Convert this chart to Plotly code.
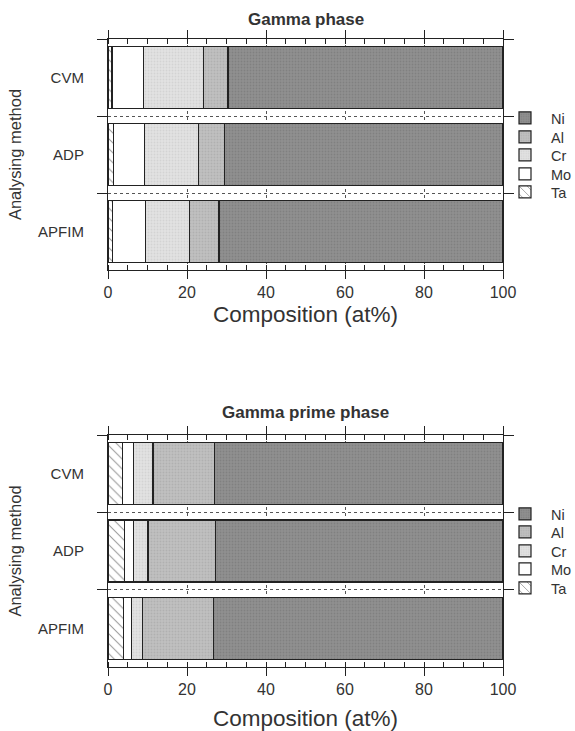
import plotly.graph_objects as go

methods = ["CVM", "ADP", "APFIM"]
elements = ["Ta", "Mo", "Cr", "Al", "Ni"]

# Gamma phase composition (at%)
gamma_Ta = [1.0, 1.4, 1.1]
gamma_Mo = [7.9, 7.9, 8.4]
gamma_Cr = [15.3, 13.7, 11.2]
gamma_Al = [6.2, 6.5, 7.4]
gamma_Ni = [69.6, 70.5, 71.9]

# Gamma prime phase composition (at%)
gprime_Ta = [3.6, 4.1, 4.0]
gprime_Mo = [2.9, 2.4, 2.0]
gprime_Cr = [4.9, 3.6, 2.8]
gprime_Al = [15.6, 17.1, 17.9]
gprime_Ni = [73.0, 72.8, 73.3]

x_ticks = [0, 20, 40, 60, 80, 100]

gamma = {"Ta": gamma_Ta, "Mo": gamma_Mo, "Cr": gamma_Cr, "Al": gamma_Al, "Ni": gamma_Ni}
gprime = {"Ta": gprime_Ta, "Mo": gprime_Mo, "Cr": gprime_Cr, "Al": gprime_Al, "Ni": gprime_Ni}

styles = {
    "Ta": dict(color="white", pattern=dict(shape="\\", fgcolor="#333333", bgcolor="white", size=7, solidity=0.15)),
    "Mo": dict(color="white"),
    "Cr": dict(color="#dcdcdc", pattern=dict(shape=".", fgcolor="#c4c4c4", bgcolor="#e2e2e2", size=3, solidity=0.3)),
    "Al": dict(color="#b9b9b9", pattern=dict(shape=".", fgcolor="#a0a0a0", bgcolor="#c0c0c0", size=3, solidity=0.3)),
    "Ni": dict(color="#8a8a8a", pattern=dict(shape=".", fgcolor="#707070", bgcolor="#909090", size=3, solidity=0.3)),
}

TXT = "#333333"
FONT = "Liberation Sans"

W, H = 575, 731
def py(p):
    return 1 - p / H

# legend entry rows (pixel centres) for each panel, Ni at top ... Ta at bottom
legend_rows = {
    0: {"Ni": 118, "Al": 137, "Cr": 155, "Mo": 174, "Ta": 192},
    1: {"Ni": 514, "Al": 532, "Cr": 551, "Mo": 569, "Ta": 588},
}

fig = go.Figure()
legends = {}
k = 0
for panel, (data, xa, ya) in enumerate([(gamma, "x", "y"), (gprime, "x2", "y2")]):
    for el in elements:
        k += 1
        lg = "legend" if k == 1 else f"legend{k}"
        st = styles[el]
        marker = dict(color=st["color"], line=dict(color="#222222", width=1.2))
        if "pattern" in st:
            marker["pattern"] = st["pattern"]
        fig.add_trace(go.Bar(
            y=methods, x=data[el], name=el, orientation="h",
            marker=marker, xaxis=xa, yaxis=ya, legend=lg,
        ))
        legends[lg] = dict(
            x=499 / W, xanchor="left",
            y=py(legend_rows[panel][el]), yanchor="middle",
            font=dict(family=FONT, size=14.5, color=TXT), bgcolor="rgba(0,0,0,0)",
            itemwidth=42, borderwidth=0,
        )

xdom = [108 / W, 503 / W]

def xaxis_cfg(anchor, standoff):
    return dict(
        domain=xdom, anchor=anchor, range=[0, 100],
        tickvals=x_ticks, ticks="outside", ticklen=8, tickwidth=1.2, tickcolor="#222",
        minor=dict(dtick=5, ticks="inside", ticklen=5, tickcolor="#222", showgrid=False),
        showline=True, linecolor="#222", linewidth=1.2, mirror="ticks",
        showgrid=True, gridcolor="#555", griddash="dot", gridwidth=1,
        zeroline=False,
        tickfont=dict(family=FONT, size=16, color=TXT),
        title=dict(text="Composition (at%)", font=dict(family=FONT, size=22.5, color=TXT), standoff=standoff),
    )

def yaxis_cfg(anchor, dom):
    return dict(
        domain=dom, anchor=anchor, type="category", categoryorder="array",
        categoryarray=methods, autorange="reversed",
        tickson="boundaries", ticks="outside", ticklen=10, tickwidth=1.2, tickcolor="#222",
        showline=True, linecolor="#222", linewidth=1.2, mirror="ticks",
        showgrid=True, gridcolor="#555", griddash="dot", gridwidth=1,
        tickfont=dict(family=FONT, size=15, color=TXT),
        ticklabelstandoff=20,
        title=dict(text="Analysing method", font=dict(family=FONT, size=16.5, color=TXT), standoff=12),
    )

fig.update_layout(
    width=W, height=H,
    margin=dict(l=0, r=0, t=0, b=0, autoexpand=False),
    paper_bgcolor="white", plot_bgcolor="white",
    barmode="stack", bargap=0.2,
    xaxis=xaxis_cfg("y", 5),
    yaxis=yaxis_cfg("x", [py(270), py(39)]),
    xaxis2=xaxis_cfg("y2", 12),
    yaxis2=yaxis_cfg("x2", [py(667), py(435)]),
    showlegend=True,
    annotations=[
        dict(text="<b>Gamma phase</b>", x=0.5, xref="x domain", yref="paper", y=py(20),
             yanchor="middle", showarrow=False, font=dict(family=FONT, size=17, color=TXT)),
        dict(text="<b>Gamma prime phase</b>", x=0.5, xref="x2 domain", yref="paper", y=py(412),
             yanchor="middle", showarrow=False, font=dict(family=FONT, size=17, color=TXT)),
    ],
    **legends,
)

fig.write_html("out.html", config={"displayModeBar": False},
               post_script="document.body.style.margin='0';")
